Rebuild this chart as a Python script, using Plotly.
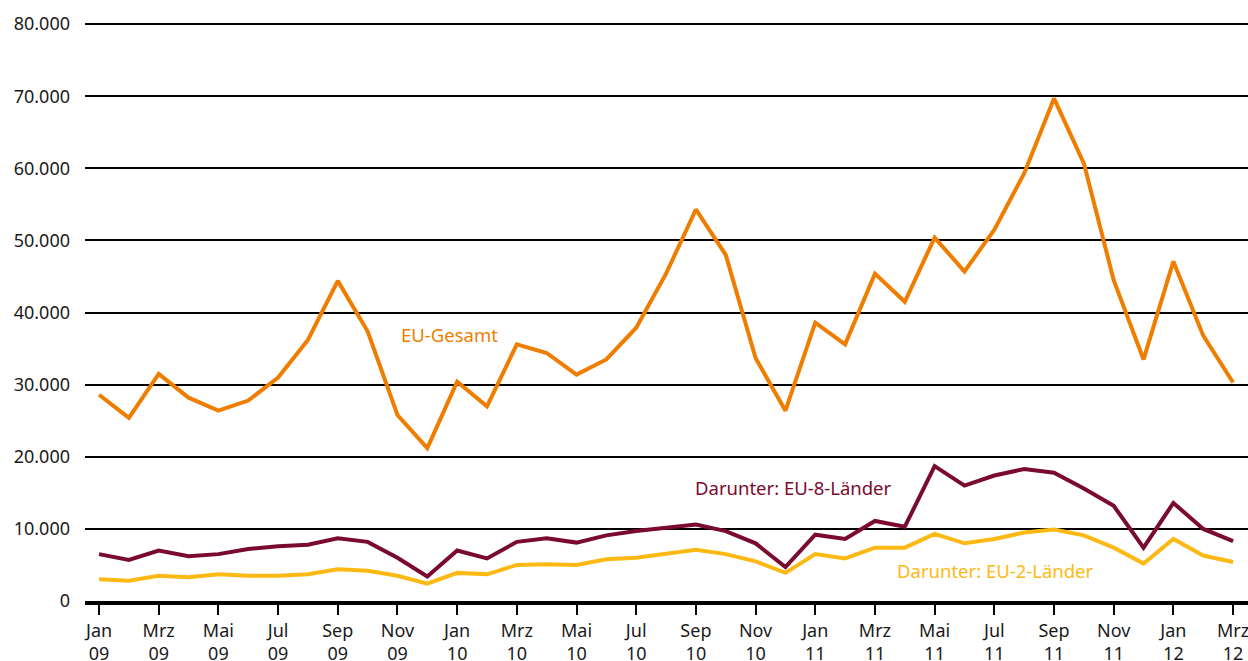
"""EU-Zuwanderung nach Monaten, Jan 09 bis Mrz 12."""

import plotly.graph_objects as go

months = [
    "Jan", "Feb", "Mrz", "Apr", "Mai", "Jun", "Jul", "Aug", "Sep", "Okt", "Nov", "Dez",
]
years = ["09", "10", "11", "12"]
periods = [f"{m}<br>{y}" for y in years for m in months][:39]

eu_gesamt = [
    28600, 25400, 31500, 28200, 26400, 27800, 31000, 36200, 44400, 37400, 25800, 21200,
    30400, 27000, 35600, 34400, 31400, 33500, 37900, 45400, 54300, 48000, 33700, 26400,
    38600, 35600, 45400, 41500, 50400, 45700, 51500, 59300, 69700, 60700, 44500, 33500,
    47100, 36800, 30300,
]
eu_8 = [
    6500, 5700, 7000, 6200, 6500, 7200, 7600, 7800, 8700, 8200, 6000, 3400,
    7000, 5900, 8200, 8700, 8100, 9100, 9700, 10100, 10600, 9700, 8000, 4700,
    9200, 8600, 11100, 10300, 18700, 16000, 17400, 18300, 17800, 15600, 13200, 7400,
    13600, 10000, 8300,
]
eu_2 = [
    3000, 2800, 3500, 3300, 3700, 3500, 3500, 3700, 4400, 4200, 3500, 2400,
    3900, 3700, 5000, 5100, 5000, 5800, 6000, 6500, 7100, 6500, 5500, 3900,
    6500, 5900, 7400, 7400, 9300, 8000, 8600, 9500, 9900, 9100, 7400, 5200,
    8600, 6300, 5400,
]
y_ticks = [0, 10000, 20000, 30000, 40000, 50000, 60000, 70000, 80000]

COLORS = {
    "EU-Gesamt": "#ef7d00",
    "Darunter: EU-8-Länder": "#7b0a2f",
    "Darunter: EU-2-Länder": "#fdb913",
}

FONT = "Noto Sans"

x = list(range(len(periods)))

fig = go.Figure()

for name, values in [
    ("EU-Gesamt", eu_gesamt),
    ("Darunter: EU-8-Länder", eu_8),
    ("Darunter: EU-2-Länder", eu_2),
]:
    fig.add_trace(
        go.Scatter(
            x=x,
            y=values,
            mode="lines",
            name=name,
            line=dict(color=COLORS[name], width=4),
        )
    )

# Series labels placed next to the lines
labels = [
    ("EU-Gesamt", 11.76, 37000),
    ("Darunter: EU-8-Länder", 23.26, 15700),
    ("Darunter: EU-2-Länder", 30.03, 4300),
]
for text, lx, ly in labels:
    fig.add_annotation(
        x=lx,
        y=ly,
        text=text,
        showarrow=False,
        font=dict(family=FONT, size=18.5, color=COLORS[text]),
    )

fig.update_layout(
    width=1248,
    height=661,
    showlegend=False,
    paper_bgcolor="white",
    plot_bgcolor="white",
    separators=",.",
    font=dict(family=FONT, size=18, color="#1a1a1a"),
    margin=dict(l=85, r=0, t=22, b=60),
    xaxis=dict(
        range=[-0.47, 38.5],
        tickvals=x[::2],
        ticktext=periods[::2],
        ticks="outside",
        ticklen=10,
        tickwidth=2,
        tickcolor="black",
        showline=True,
        linecolor="black",
        linewidth=4,
        showgrid=False,
        zeroline=False,
        automargin=False,
        ticklabeloverflow="allow",
        tickfont=dict(family=FONT, size=18, color="#1a1a1a"),
    ),
    yaxis=dict(
        range=[0, 80300],
        tickvals=y_ticks,
        tickformat=",d",
        showgrid=True,
        gridcolor="black",
        gridwidth=2,
        zeroline=False,
        showline=False,
        automargin=False,
        ticklabelstandoff=14,
        tickfont=dict(family=FONT, size=18, color="#1a1a1a"),
    ),
)

# page body margin would shift the chart inside the window
fig.write_html(
    "out.html",
    config={"displayModeBar": False},
    post_script="document.body.style.margin='0';",
)
